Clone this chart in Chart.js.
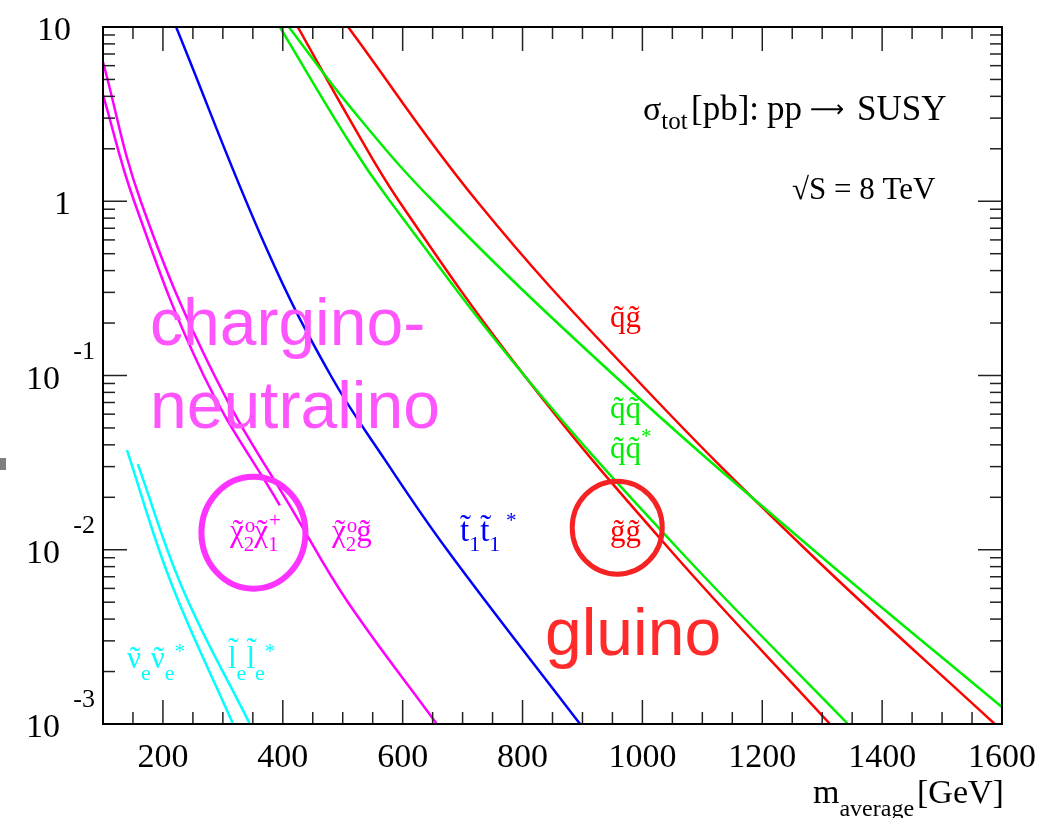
<!DOCTYPE html>
<html lang="en">
<head>
<meta charset="UTF-8">
<title>SUSY production cross sections, 8 TeV</title>
<script src="https://cdn.jsdelivr.net/npm/chart.js"></script>
<style>
  html, body { margin: 0; padding: 0; background: #fff; }
  canvas { display: block; }
</style>
</head>
<body>
<canvas id="xsecChart" width="1045" height="818"></canvas>
<script>
// axis ticks
const xTicks = [200, 400, 600, 800, 1000, 1200, 1400, 1600];
const yTicks = [10, 1, 0.1, 0.01, 0.001];
const yTickBase = ['10', '1', '10', '10', '10'];
const yTickExp = ['', '', '-1', '-2', '-3'];

// average mass [GeV] and total cross section [pb] for each channel
const mSqGl = [509, 724, 984, 1273, 1588];
const sSqGl = [10, 1.0, 0.1, 0.01, 0.001];

const mSqSq = [410, 512, 651, 953, 1285, 1600];
const sSqSq = [10, 3.49, 1.0, 0.1, 0.01, 0.00125];

const mSqSqBar = [395, 512, 579, 803, 1061, 1343];
const sSqSqBar = [10, 2.16, 1.0, 0.1, 0.01, 0.001];

const mGlGl = [425, 512, 594, 803, 1046, 1313];
const sGlGl = [10, 2.93, 1.0, 0.1, 0.01, 0.001];

const mStop = [222, 373, 480, 570, 674, 896];
const sStop = [10, 0.533, 0.10, 0.033, 0.010, 0.001];

const mN2Gl = [100, 163, 286, 424, 507, 657];
const sN2Gl = [6.3, 1.0, 0.1, 0.0152, 0.0051, 0.001];

const mN2C1 = [100, 152, 268, 395];
const sN2C1 = [4.08, 1.0, 0.1, 0.018];

const mSnu = [140, 212, 317];
const sSnu = [0.0373, 0.00668, 0.001];

const mSlep = [158, 234, 345];
const sSlep = [0.031, 0.00586, 0.001];

const RED = '#ff0000', GREEN = '#00ee00', BLUE = '#0000ff', MAG = '#ff00ff', CYAN = '#00ffff';

function curve(ms, ss, color) {
  return {
    data: ms.map((m, i) => ({ x: m, y: ss[i] })),
    borderColor: color,
    borderWidth: 2.5,
    pointRadius: 0,
    fill: false,
    tension: 0.4
  };
}

// draws a row of text pieces; a piece may carry a stacked superscript,
// a tilde on top (tl = extra lift in px) or an absolute x position
function rich(ctx, x, y, parts, color) {
  ctx.fillStyle = color;
  ctx.textBaseline = 'alphabetic';
  ctx.textAlign = 'left';
  let cx = x;
  for (const p of parts) {
    const dy = p.dy || 0;
    if (p.at !== undefined) cx = p.at;
    ctx.font = p.s + 'px ' + (p.font || '"Liberation Serif"');
    ctx.fillText(p.t, cx, y + dy);
    let w = ctx.measureText(p.t).width;
    if (p.tl !== undefined) {
      const tw = ctx.measureText('\u02dc').width;
      ctx.fillText('\u02dc', cx + (w - tw) / 2 + 1, y + dy - p.tl);
    }
    if (p.sup) {
      ctx.font = p.s + 'px "Liberation Serif"';
      ctx.fillText(p.sup, cx + 1, y + p.sdy);
      w = Math.max(w, ctx.measureText(p.sup).width);
    }
    cx += w;
  }
}

const S = 31, s = 21;
const notes = [
  { x: 643, y: 120, c: '#000', parts: [
    { t: '\u03c3', s: 34 }, { t: 'tot', s: 25, dy: 9 }, { t: '[pb]:', s: 35, at: 691 },
    { t: 'pp', s: 35, at: 767 }, { t: '\u27f6', s: 24, dy: -3, at: 810, font: '"DejaVu Sans"' },
    { t: 'SUSY', s: 35, at: 857 }] },
  { x: 792, y: 199, c: '#000', parts: [{ t: '\u221aS = 8 TeV', s: 31 }] },
  { x: 610, y: 327, c: RED, parts: [{ t: 'q', s: S, tl: 0 }, { t: 'g', s: S, tl: 0 }] },
  { x: 610, y: 418, c: GREEN, parts: [{ t: 'q', s: S, tl: 0 }, { t: 'q', s: S, tl: 0 }] },
  { x: 610, y: 458, c: GREEN, parts: [{ t: 'q', s: S, tl: 0 }, { t: 'q', s: S, tl: 0 }, { t: '*', s: s, dy: -15 }] },
  { x: 610, y: 541, c: RED, parts: [{ t: 'g', s: S, tl: 0 }, { t: 'g', s: S, tl: 0 }] },
  { x: 460, y: 541, c: BLUE, parts: [
    { t: 't', s: 33, tl: 3 }, { t: '1', s: 22, dy: 10 }, { t: 't', s: 33, tl: 3 }, { t: '1', s: 22, dy: 10 },
    { t: '*', s: s, dy: -14, at: 506 }] },
  { x: 230, y: 541, c: MAG, parts: [
    { t: '\u03c7', s: S, tl: 0 }, { t: '2', s: s, dy: 10, sup: 'o', sdy: -9 },
    { t: '\u03c7', s: S, tl: 0 }, { t: '1', s: s, dy: 10, sup: '+', sdy: -14 }] },
  { x: 332, y: 541, c: MAG, parts: [
    { t: '\u03c7', s: S, tl: 0 }, { t: '2', s: s, dy: 10, sup: 'o', sdy: -9 }, { t: 'g', s: S, tl: 0 }] },
  { x: 127, y: 668, c: CYAN, parts: [
    { t: '\u03bd', s: S, tl: 0 }, { t: 'e', s: 22, dy: 12 }, { t: '\u03bd', s: S, tl: 0 }, { t: 'e', s: 22, dy: 12 },
    { t: '*', s: s, dy: -10 }] },
  { x: 228, y: 668, c: CYAN, parts: [
    { t: 'l', s: S, tl: 9 }, { t: 'e', s: 22, dy: 12 }, { t: 'l', s: S, tl: 9 }, { t: 'e', s: 22, dy: 12 },
    { t: '*', s: s, dy: -10 }] }
];

const bigNotes = [
  { t: 'chargino-', x: 150, y: 345, c: '#ff55ff' },
  { t: 'neutralino', x: 150, y: 428, c: '#ff55ff' },
  { t: 'gluino', x: 545, y: 655, c: '#ff2a2a' }
];

// circles around the highlighted channels, centre in data units
const rings = [
  { m: 351, s: 0.01253, rx: 52, ry: 56, w: 6, c: '#ff33ff' },
  { m: 958, s: 0.01339, rx: 45, ry: 46.5, w: 5, c: '#f52323' }
];

const framePlugin = {
  id: 'frame',
  afterDatasetsDraw(chart) {
    const { ctx, chartArea: a, scales: { x, y } } = chart;
    ctx.save();

    ctx.strokeStyle = '#222';
    ctx.lineWidth = 1.5;
    const seg = (x1, y1, x2, y2) => { ctx.beginPath(); ctx.moveTo(x1, y1); ctx.lineTo(x2, y2); ctx.stroke(); };

    // x ticks: every 50 GeV, long ones under the labels
    for (let m = 150; m < 1600; m += 50) {
      const px = x.getPixelForValue(m);
      const len = m % 200 === 0 ? 24 : 12;
      seg(px, a.bottom, px, a.bottom - len);
      seg(px, a.top, px, a.top + len);
    }
    // y ticks: decades long, 2..9 short
    for (let e = -3; e <= 0; e++) {
      for (let k = 1; k <= 9; k++) {
        if (e === -3 && k === 1) continue;
        const py = y.getPixelForValue(k * Math.pow(10, e));
        const len = k === 1 ? 24 : 12;
        seg(a.left, py, a.left + len, py);
        seg(a.right, py, a.right - len, py);
      }
    }

    ctx.strokeStyle = '#000';
    ctx.lineWidth = 2;
    ctx.strokeRect(a.left, a.top, a.right - a.left, a.bottom - a.top);

    // tick labels
    ctx.fillStyle = '#000';
    ctx.textBaseline = 'alphabetic';
    ctx.font = '34px "Liberation Serif"';
    ctx.textAlign = 'center';
    xTicks.forEach(m => ctx.fillText(String(m), x.getPixelForValue(m), 767));
    yTicks.forEach((v, i) => {
      const py = y.getPixelForValue(v);
      ctx.font = '34px "Liberation Serif"';
      ctx.textAlign = 'right';
      if (yTickExp[i]) {
        ctx.fillText(yTickBase[i], 60, py + 13);
        ctx.font = '26px "Liberation Serif"';
        ctx.fillText(yTickExp[i], 95, py - 17);
      } else {
        ctx.fillText(yTickBase[i], 71, py + 13);
      }
    });

    // axis title
    rich(ctx, 813, 803, [{ t: 'm', s: 34 }, { t: 'average', s: 24, dy: 13 }, { t: '[GeV]', s: 34, at: 917 }], '#000');

    // rings
    rings.forEach(r => {
      ctx.strokeStyle = r.c;
      ctx.lineWidth = r.w;
      ctx.beginPath();
      ctx.ellipse(x.getPixelForValue(r.m), y.getPixelForValue(r.s), r.rx, r.ry, 0, 0, Math.PI * 2);
      ctx.stroke();
    });

    notes.forEach(n => rich(ctx, n.x, n.y, n.parts, n.c));

    ctx.font = '66px "Liberation Sans"';
    ctx.textAlign = 'left';
    bigNotes.forEach(n => { ctx.fillStyle = n.c; ctx.fillText(n.t, n.x, n.y); });

    // small grey mark on the left margin
    ctx.fillStyle = '#808080';
    ctx.fillRect(0, 458, 6, 12);

    ctx.restore();
  }
};

new Chart(document.getElementById('xsecChart').getContext('2d'), {
  type: 'line',
  data: {
    datasets: [
      curve(mSnu, sSnu, CYAN),
      curve(mSlep, sSlep, CYAN),
      curve(mN2C1, sN2C1, MAG),
      curve(mN2Gl, sN2Gl, MAG),
      curve(mStop, sStop, BLUE),
      curve(mSqSqBar, sSqSqBar, GREEN),
      curve(mSqSq, sSqSq, GREEN),
      curve(mGlGl, sGlGl, RED),
      curve(mSqGl, sSqGl, RED)
    ]
  },
  options: {
    responsive: false,
    animation: false,
    layout: { padding: { left: 103, top: 27, right: 43, bottom: 94 } },
    scales: {
      x: { type: 'linear', min: 100, max: 1600, display: false },
      y: { type: 'logarithmic', min: 0.001, max: 10, display: false }
    },
    plugins: {
      legend: { display: false },
      tooltip: { enabled: false }
    }
  },
  plugins: [framePlugin]
});
</script>
</body>
</html>
